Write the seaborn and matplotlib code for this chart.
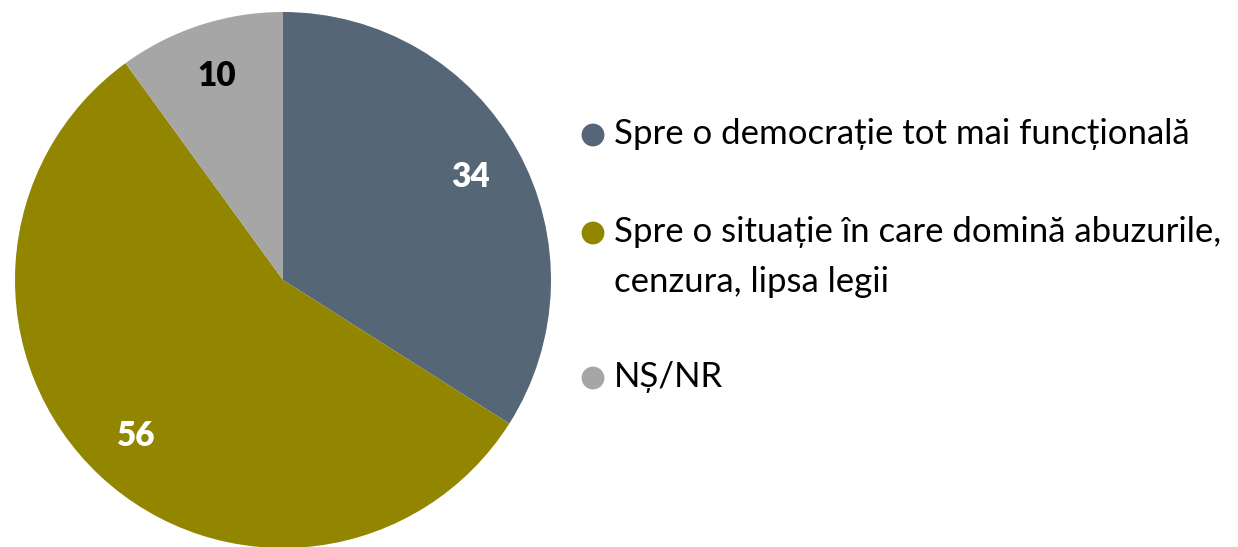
import matplotlib
matplotlib.use('Agg')
import matplotlib.pyplot as plt
import seaborn as sns

# date
categorii = ['Spre o democrație tot mai funcțională',
             'Spre o situație în care domină abuzurile,\ncenzura, lipsa legii',
             'NȘ/NR']
valori = [34, 56, 10]
culori = ['#556677', '#928600', '#A6A6A6']
culori_text = ['white', 'white', 'black']

sns.set_theme(style='white')
plt.rcParams['font.family'] = ['Lato', 'DejaVu Sans']

fig = plt.figure(figsize=(12.38, 5.47), dpi=100)

# pie
ax = fig.add_axes([15 / 1238, -1 / 547, 536 / 1238, 536 / 547])
wedges, texts = ax.pie(valori, colors=culori, startangle=90, counterclock=False,
                       labels=[str(v) for v in valori], labeldistance=0.8,
                       radius=1.0, wedgeprops=dict(linewidth=0))
for t, c in zip(texts, culori_text):
    t.set_color(c)
    t.set_fontsize(24)
    t.set_fontweight('heavy')
    t.set_ha('center')
    t.set_va('center')
ax.set_xlim(-1, 1)
ax.set_ylim(-1, 1)
ax.set_aspect('equal')

# legenda
lax = fig.add_axes([0, 0, 1, 1])
lax.set_xlim(0, 1238)
lax.set_ylim(547, 0)
lax.axis('off')
y_poz = [135, 233, 378]
lax.scatter([593] * 3, y_poz, s=270, c=culori, linewidths=0)
for y, lab in zip(y_poz, categorii):
    lax.text(614, y - 17, lab, fontsize=25, va='top', ha='left',
             color='black', linespacing=1.68)

fig.savefig('out.png', dpi=100)
